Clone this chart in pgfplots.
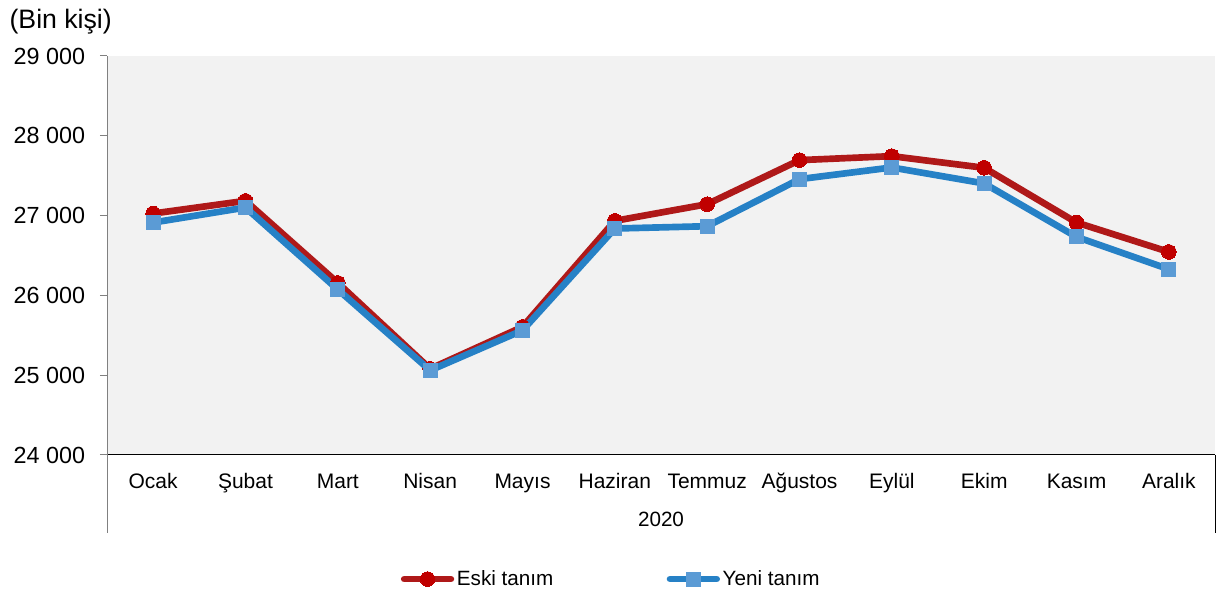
\documentclass[border=0pt]{standalone}
\usepackage{pgfplots}
\pgfplotsset{compat=1.18}
\usepackage{fontspec}
\setmainfont{Liberation Sans}
\definecolor{redline}{RGB}{175,25,25}
\definecolor{redmark}{RGB}{192,0,0}
\definecolor{blueline}{RGB}{38,129,198}
\definecolor{bluemark}{RGB}{91,155,213}
\definecolor{plotbg}{RGB}{242,242,242}
\definecolor{axisgray}{RGB}{128,128,128}
\begin{document}
\begin{tikzpicture}
\path[use as bounding box] (0pt,0pt) rectangle (915.75pt,444pt);
\begin{axis}[
  at={(80.25pt,102.75pt)}, anchor=south west,
  scale only axis, width=831pt, height=299.25pt,
  xmin=-0.5, xmax=11.5, ymin=24000, ymax=29000,
  scaled y ticks=false,
  axis lines*=left,
  x axis line style={black, line width=0.75pt},
  y axis line style={axisgray, line width=0.75pt},
  axis background/.style={fill=plotbg},
  xtick={0,...,11},
  xticklabels={Ocak,Şubat,Mart,Nisan,Mayıs,Haziran,Temmuz,Ağustos,Eylül,Ekim,Kasım,Aralık},
  ytick={24000,25000,...,29000},
  yticklabels={24 000,25 000,26 000,27 000,28 000,29 000},
  tick align=outside, major tick length=5.25pt,
  xtick style={draw=none},
  ytick style={axisgray, line width=0.75pt},
  xticklabel style={anchor=north, inner sep=0pt, text height=11.3pt, text depth=0pt, yshift=-8.25pt, font=\fontsize{15.75pt}{18pt}\selectfont},
  yticklabel style={anchor=east, inner sep=0pt, xshift=-11pt, font=\fontsize{17.5pt}{20pt}\selectfont},
  clip=false,
  legend columns=2,
  legend style={draw=none, fill=none, at={(0.4554,-0.311)}, anchor=center,
    font=\fontsize{15.5pt}{18pt}\selectfont,
    /tikz/every even column/.append style={column sep=83pt},
    /tikz/every odd column/.append style={column sep=0pt},
    nodes={inner xsep=2pt}},
  legend image code/.code={\draw[#1, mark repeat=2, mark phase=2, line cap=round] plot coordinates {(2.5pt,0pt) (20pt,0pt) (37.5pt,0pt)};},
]
\addplot[redline, line width=5pt, line join=round, mark=*, mark size=5.5pt, mark options={fill=redmark, draw=redmark, line width=0pt}]
 coordinates {(0,27026) (1,27185) (2,26156) (3,25080) (4,25605) (5,26934) (6,27143) (7,27695) (8,27745) (9,27599) (10,26913) (11,26545)};
\addlegendentry{Eski tanım}
\addplot[blueline, line width=5pt, line join=round, mark=square*, mark size=5.25pt, mark options={fill=bluemark, draw=bluemark, line width=0pt}]
 coordinates {(0,26913) (1,27101) (2,26073) (3,25060) (4,25562) (5,26838) (6,26867) (7,27457) (8,27603) (9,27403) (10,26733) (11,26328)};
\addlegendentry{Yeni tanım}
\end{axis}
\draw[axisgray, line width=0.75pt] (80.25pt,102.75pt) -- (80.25pt,44.25pt);
\draw[black, line width=0.75pt] (911.25pt,102.75pt) -- (911.25pt,44.25pt);
\node[font=\fontsize{15.5pt}{18pt}\selectfont] at (495.75pt,54.75pt) {2020};
\node[anchor=west, inner sep=0pt, font=\fontsize{20pt}{23pt}\selectfont] at (7pt,427.5pt) {(Bin kişi)};
\end{tikzpicture}
\end{document}
